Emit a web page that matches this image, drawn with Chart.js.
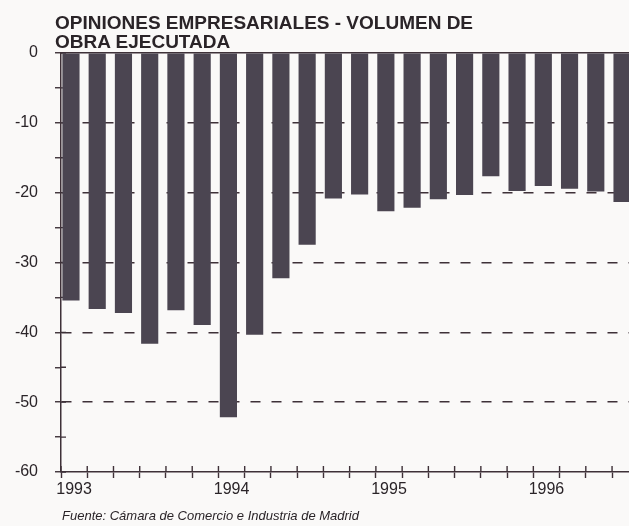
<!DOCTYPE html>
<html lang="es">
<head>
    <meta charset="UTF-8">
    <title>Opiniones empresariales - volumen de obra ejecutada</title>
    <style>
        body {
            margin: 0;
            overflow: hidden;
            background-color: #faf9f8;
            font-family: "Liberation Sans", Arial, sans-serif;
        }
        #title {
            position: absolute;
            left: 55px;
            top: 13px;
            font-size: 19px;
            line-height: 19px;
            font-weight: bold;
            color: #2a2428;
            z-index: 2;
        }
        #wrap {
            position: absolute;
            left: 0;
            top: 0;
            width: 640px;
            height: 526px;
        }
        #source {
            position: absolute;
            left: 62px;
            top: 508px;
            font-size: 13px;
            line-height: 15px;
            font-style: italic;
            color: #2a2428;
        }
    </style>
</head>
<body>
    <div id="title">OPINIONES EMPRESARIALES - VOLUMEN DE<br>OBRA EJECUTADA</div>
    <div id="wrap"><canvas id="chart"></canvas></div>
    <div id="source">Fuente: Cámara de Comercio e Industria de Madrid</div>

    <script src="https://cdn.jsdelivr.net/npm/chart.js@4.4.1/dist/chart.umd.min.js"></script>
    <script>
        // encuestas bimestrales, ene-93 .. oct-96
        const periods = ['1993', '', '', '', '', '',
                         '1994', '', '', '', '', '',
                         '1995', '', '', '', '', '',
                         '1996', '', '', ''];
        const values = [-35.4, -36.6, -37.2, -41.6, -36.8, -38.9,
                        -52.1, -40.3, -32.2, -27.4, -20.8, -20.2,
                        -22.6, -22.1, -20.9, -20.3, -17.6, -19.7,
                        -19.0, -19.4, -19.8, -21.3];
        const yTicks = [0, -10, -20, -30, -40, -50, -60];

        const axisColor = '#3e3138';
        const barColor = '#4b4551';
        const textColor = '#2a2428';
        const font = { family: '"Liberation Sans", Arial, sans-serif', size: 16 };

        // las marcas de los ejes cruzan la línea del eje
        const crossTicks = {
            id: 'crossTicks',
            beforeDatasetsDraw(chart) {
                const { ctx, chartArea } = chart;
                const y = chart.scales.y;
                const xt = chart.scales.xt;
                ctx.save();
                ctx.strokeStyle = axisColor;
                ctx.lineWidth = 1.4;
                ctx.beginPath();
                y.ticks.forEach((t, i) => {
                    const py = y.getPixelForTick(i);
                    ctx.moveTo(chartArea.left, py);
                    ctx.lineTo(chartArea.left + 5, py);
                });
                for (let i = 0; i <= periods.length; i++) {
                    const px = xt.getPixelForValue(i - 0.5);
                    ctx.moveTo(px, chartArea.bottom);
                    ctx.lineTo(px, chartArea.bottom - 6);
                }
                ctx.stroke();
                ctx.restore();
            }
        };

        new Chart(document.getElementById('chart'), {
            type: 'bar',
            data: {
                datasets: [{
                    data: values.map((v, i) => ({ x: i, y: v })),
                    backgroundColor: barColor,
                    borderWidth: 0,
                    barThickness: 16.5,
                    xAxisID: 'x',
                    yAxisID: 'y'
                }]
            },
            options: {
                responsive: true,
                maintainAspectRatio: false,
                animation: false,
                layout: { padding: { top: 53, bottom: 24, left: 0, right: 1.7 } },
                plugins: {
                    legend: { display: false },
                    tooltip: { enabled: false }
                },
                scales: {
                    x: {
                        type: 'linear',
                        position: 'top',
                        offset: false,
                        min: -0.38,
                        max: 21.62,
                        ticks: { display: false },
                        grid: { display: false, drawTicks: false },
                        border: { display: true, color: axisColor, width: 1.5 }
                    },
                    xt: {
                        type: 'category',
                        position: 'bottom',
                        labels: periods,
                        offset: true,
                        grid: {
                            offset: true,
                            drawOnChartArea: false,
                            tickLength: 6,
                            tickColor: axisColor,
                            tickWidth: 1.4,
                            color: axisColor
                        },
                        border: { display: true, color: axisColor, width: 1.5 },
                        ticks: {
                            autoSkip: false,
                            maxRotation: 0,
                            minRotation: 0,
                            padding: 2,
                            color: textColor,
                            font: font
                        },
                        afterFit: (s) => { s.height = 30; }
                    },
                    y: {
                        min: -60,
                        max: 0,
                        ticks: {
                            stepSize: 5,
                            autoSkip: false,
                            padding: 17,
                            color: textColor,
                            font: font,
                            callback: (v) => yTicks.includes(v) ? String(v) : ''
                        },
                        grid: {
                            tickLength: 6,
                            tickWidth: 1.4,
                            tickColor: axisColor,
                            lineWidth: 1.5,
                            color: (c) => (c.tick && yTicks.includes(c.tick.value) && c.tick.value !== 0 && c.tick.value !== -60)
                                ? axisColor : 'rgba(0,0,0,0)'
                        },
                        border: { display: true, color: axisColor, width: 1.5, dash: [10, 11] },
                        afterFit: (s) => { s.width = 61; }
                    }
                }
            },
            plugins: [crossTicks]
        });
    </script>
</body>
</html>
